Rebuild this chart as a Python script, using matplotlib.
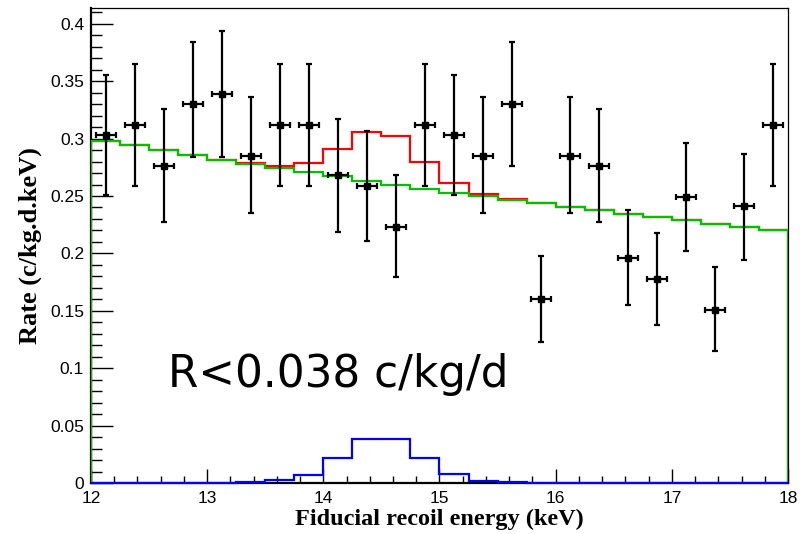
import numpy as np
import matplotlib
matplotlib.use("Agg")
import matplotlib.pyplot as plt
from matplotlib.ticker import MultipleLocator

# binning: 24 bins of 0.25 keV between 12 and 18 keV
edges = np.linspace(12, 18, 25)
energy = 0.5 * (edges[:-1] + edges[1:])

# measured rate (c/kg.d.keV) with asymmetric errors
rate = [0.303, 0.312, 0.276, 0.330, 0.339, 0.285, 0.312, 0.312, 0.268, 0.259, 0.223, 0.312,
        0.303, 0.285, 0.330, 0.160, 0.285, 0.276, 0.196, 0.178, 0.249, 0.151, 0.241, 0.312]
rate_hi = [0.355, 0.365, 0.326, 0.384, 0.394, 0.336, 0.365, 0.365, 0.317, 0.307, 0.268, 0.365,
           0.355, 0.336, 0.384, 0.198, 0.336, 0.326, 0.238, 0.218, 0.296, 0.188, 0.287, 0.365]
rate_lo = [0.251, 0.259, 0.227, 0.284, 0.284, 0.235, 0.259, 0.259, 0.219, 0.211, 0.179, 0.259,
           0.251, 0.235, 0.276, 0.123, 0.235, 0.227, 0.155, 0.138, 0.202, 0.115, 0.194, 0.259]
x_err = 0.086

# background model (green), background + signal (red), signal alone (blue)
background = [0.298, 0.294, 0.290, 0.2857, 0.281, 0.278, 0.2747, 0.2706, 0.267, 0.263, 0.260, 0.2564,
              0.253, 0.250, 0.2468, 0.2439, 0.2404, 0.2375, 0.2346, 0.2314, 0.2288, 0.2259, 0.2233, 0.2207]
total = [0.298, 0.294, 0.290, 0.2857, 0.281, 0.2785, 0.2764, 0.2787, 0.2906, 0.3055, 0.3023, 0.280,
         0.2616, 0.252, 0.2474, 0.2439, 0.2404, 0.2375, 0.2346, 0.2314, 0.2288, 0.2259, 0.2233, 0.2207]
signal = [0, 0, 0, 0, 0, 0.0007, 0.0023, 0.0072, 0.022, 0.0383, 0.038, 0.0215,
          0.0075, 0.002, 0.0009, 0, 0, 0, 0, 0, 0, 0, 0, 0]

limit_text = "R<0.038 c/kg/d"

fig = plt.figure(figsize=(8, 5.34), dpi=100)
ax = fig.add_axes([0.11375, 0.0955, 0.985 - 0.11375, 0.9845 - 0.0955])

ax.stairs(total, edges, color="#ff0000", lw=1.6, zorder=2)
ax.stairs(background, edges, color="#00c000", lw=1.6, zorder=3)
ax.stairs(signal, edges, color="#0000ff", lw=1.6, zorder=4, clip_on=False)

rate_a = np.array(rate)
yerr = [rate_a - np.array(rate_lo), np.array(rate_hi) - rate_a]
ax.errorbar(energy, rate, yerr=yerr, xerr=x_err, fmt="s", color="black", ms=4.5,
            elinewidth=1.6, capsize=2.5, capthick=1.6, zorder=5)

ax.text(12.663, 0.0836, limit_text, fontsize=31.5, family="DejaVu Sans",
        ha="left", va="baseline", zorder=6)

ax.set_xlim(12, 18)
ax.set_ylim(0, 0.4135)

ax.xaxis.set_major_locator(MultipleLocator(1))
ax.xaxis.set_minor_locator(MultipleLocator(0.2))
ax.yaxis.set_major_locator(MultipleLocator(0.05))
ax.yaxis.set_minor_locator(MultipleLocator(0.01))
ax.set_yticks([0, 0.05, 0.1, 0.15, 0.2, 0.25, 0.3, 0.35, 0.4])
ax.set_yticklabels(["0", "0.05", "0.1", "0.15", "0.2", "0.25", "0.3", "0.35", "0.4"])

ax.tick_params(axis="both", which="both", direction="in", top=False, right=False,
               width=1, labelsize=12.5)
ax.tick_params(axis="y", which="major", length=16, pad=5)
ax.tick_params(axis="y", which="minor", length=8)
ax.tick_params(axis="x", which="major", length=10, pad=6)
ax.tick_params(axis="x", which="minor", length=5)
for lab in ax.get_xticklabels() + ax.get_yticklabels():
    lab.set_family("Liberation Sans")

ax.spines["left"].set_linewidth(1.6)
ax.spines["bottom"].set_linewidth(1.6)
ax.spines["top"].set_linewidth(0.9)
ax.spines["right"].set_linewidth(0.9)

ax.set_xlabel("Fiducial recoil energy (keV)", family="Liberation Serif",
              fontweight="bold", fontsize=17.5, labelpad=1.5)
ax.set_ylabel("Rate (c/kg.d.keV)", family="Liberation Serif",
              fontweight="bold", fontsize=19, labelpad=6)

fig.savefig("out.png", dpi=100)
